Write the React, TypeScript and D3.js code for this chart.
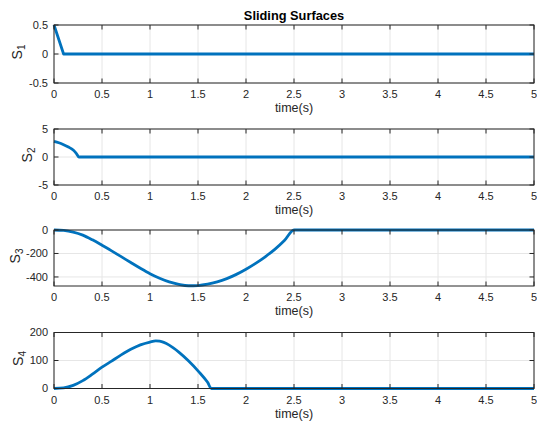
import React from "react";
import * as d3 from "d3";

// Sliding surface trajectories (time in seconds)
const t1 = [0, 0.1, 5];
const s1 = [0.5, 0, 0];

const t2 = [0, 0.05, 0.1, 0.15, 0.2, 0.23, 0.26, 5];
const s2 = [2.8, 2.55, 2.2, 1.78, 1.25, 0.7, 0, 0];

const t3 = [0, 0.1, 0.2, 0.3, 0.4, 0.5, 0.6, 0.7, 0.8, 0.9, 1.0, 1.1, 1.2, 1.3, 1.4, 1.5, 1.6, 1.7, 1.8, 1.9, 2.0, 2.1, 2.2, 2.3, 2.4, 2.5, 5];
const s3 = [0, -4, -18, -44, -84, -130, -178, -227, -277, -326, -372, -411, -442, -463, -475, -473, -462, -442, -414, -378, -334, -284, -228, -165, -90, 0, 0];

const t4 = [0, 0.1, 0.2, 0.3, 0.4, 0.5, 0.6, 0.7, 0.8, 0.9, 1.0, 1.06, 1.1, 1.2, 1.3, 1.4, 1.5, 1.6, 1.64, 5];
const s4 = [0, 2, 11, 28, 51, 76, 98, 120, 140, 156, 166, 170, 169, 155, 130, 99, 63, 22, 0, 0];

const xTicks = [0, 0.5, 1, 1.5, 2, 2.5, 3, 3.5, 4, 4.5, 5];
const xTickLabels = ["0", "0.5", "1", "1.5", "2", "2.5", "3", "3.5", "4", "4.5", "5"];

const yTicks1 = [-0.5, 0, 0.5];
const yTicks2 = [-5, 0, 5];
const yTicks3 = [-400, -200, 0];
const yTicks4 = [0, 100, 200];

const W = 537;
const H = 423;
const left = 54;
const right = 534;
const FONT = "Liberation Sans, Arial, Helvetica, sans-serif";
const AXIS = "#262626";
const LINE = "#0072BD";
const GRID = "#e6e6e6";

type Panel = {
  t: number[];
  s: number[];
  domain: [number, number];
  ticks: number[];
  top: number;
  bottom: number;
  sub: string;
  labelX: number;
  linear: boolean;
};

const panels: Panel[] = [
  { t: t1, s: s1, domain: [-0.5, 0.5], ticks: yTicks1, top: 25, bottom: 83, sub: "1", labelX: 21.5, linear: true },
  { t: t2, s: s2, domain: [-5, 5], ticks: yTicks2, top: 129, bottom: 185, sub: "2", labelX: 31.5, linear: false },
  { t: t3, s: s3, domain: [-477, 0], ticks: yTicks3, top: 230, bottom: 286, sub: "3", labelX: 20, linear: false },
  { t: t4, s: s4, domain: [0, 200], ticks: yTicks4, top: 332.5, bottom: 388.5, sub: "4", labelX: 23, linear: false },
];

const x = d3.scaleLinear().domain([0, 5]).range([left, right]);

function PanelView({ p }: { p: Panel }) {
  const y = d3.scaleLinear().domain(p.domain).range([p.bottom, p.top]);
  const pts: [number, number][] = p.t.map((tv, i) => [tv, p.s[i]]);
  const line = d3
    .line<[number, number]>()
    .x((d) => x(d[0]))
    .y((d) => y(d[1]))
    .curve(p.linear ? d3.curveLinear : d3.curveMonotoneX);
  const tickLen = 4.5;
  const midY = (p.top + p.bottom) / 2 - 2;
  return (
    <g>
      <rect x={left} y={p.top} width={right - left} height={p.bottom - p.top} fill="#fff" />
      {xTicks.map((tv) => (
        <line key={"gx" + tv} x1={x(tv)} x2={x(tv)} y1={p.top} y2={p.bottom} stroke={GRID} strokeWidth={1} />
      ))}
      {p.ticks.map((tv) => (
        <line key={"gy" + tv} x1={left} x2={right} y1={y(tv)} y2={y(tv)} stroke={GRID} strokeWidth={1} />
      ))}
      <path d={line(pts) || ""} fill="none" stroke={LINE} strokeWidth={2.8} strokeLinejoin="round" />
      <rect x={left} y={p.top} width={right - left} height={p.bottom - p.top} fill="none" stroke={AXIS} strokeWidth={1} />
      {xTicks.map((tv) => (
        <g key={"tx" + tv}>
          <line x1={x(tv)} x2={x(tv)} y1={p.bottom} y2={p.bottom - tickLen} stroke={AXIS} />
          <line x1={x(tv)} x2={x(tv)} y1={p.top} y2={p.top + tickLen} stroke={AXIS} />
        </g>
      ))}
      {p.ticks.map((tv) => (
        <g key={"ty" + tv}>
          <line x1={left} x2={left + tickLen} y1={y(tv)} y2={y(tv)} stroke={AXIS} />
          <line x1={right} x2={right - tickLen} y1={y(tv)} y2={y(tv)} stroke={AXIS} />
          <text x={left - 6} y={y(tv)} dy="0.36em" textAnchor="end" fontSize={11} fill={AXIS} fontFamily={FONT}>
            {String(tv)}
          </text>
        </g>
      ))}
      {xTicks.map((tv, i) => (
        <text key={"lx" + tv} x={x(tv)} y={p.bottom + 15} textAnchor="middle" fontSize={11} fill={AXIS} fontFamily={FONT}>
          {xTickLabels[i]}
        </text>
      ))}
      <text x={(left + right) / 2} y={p.bottom + 29} textAnchor="middle" fontSize={12.5} fill={AXIS} fontFamily={FONT}>
        time(s)
      </text>
      <text
        transform={`translate(${p.labelX},${midY}) rotate(-90)`}
        textAnchor="middle"
        fontSize={14}
        fill={AXIS}
        fontFamily={FONT}
      >
        S
        <tspan fontSize={10} dy={3}>
          {p.sub}
        </tspan>
      </text>
    </g>
  );
}

export default function App() {
  return (
    <svg width={W} height={H} style={{ display: "block", position: "absolute", left: 0, top: 0 }}>
      <rect width={W} height={H} fill="#fff" />
      <text x={(left + right) / 2} y={19.5} textAnchor="middle" fontSize={12.8} fontWeight="bold" fill="#000" fontFamily={FONT}>
        Sliding Surfaces
      </text>
      {panels.map((p, i) => (
        <PanelView key={i} p={p} />
      ))}
    </svg>
  );
}
